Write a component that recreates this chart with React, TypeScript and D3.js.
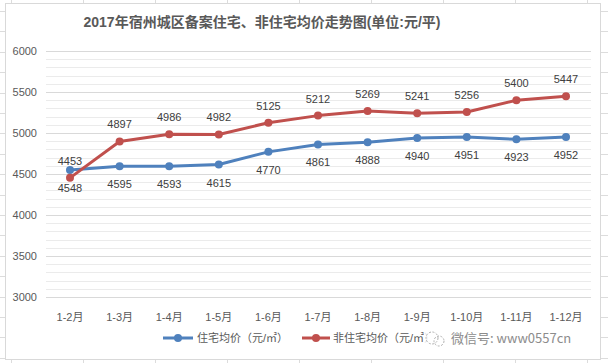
import * as d3 from "d3";

const months = ["1-2月", "1-3月", "1-4月", "1-5月", "1-6月", "1-7月", "1-8月", "1-9月", "1-10月", "1-11月", "1-12月"];
const residential = [4548, 4595, 4593, 4615, 4770, 4861, 4888, 4940, 4951, 4923, 4952];
const nonResidential = [4453, 4897, 4986, 4982, 5125, 5212, 5269, 5241, 5256, 5400, 5447];
const yTicks = [3000, 3500, 4000, 4500, 5000, 5500, 6000];
const seriesNames = ["住宅均价（元/㎡）", "非住宅均价（元/㎡）"];

const W = 608;
const H = 363;
const FONT = "'Liberation Sans', 'Noto Sans CJK SC', sans-serif";
const TEXT = "#595959";
const BLUE = "#4f81bd";
const RED = "#c0504d";

export default function App() {
  const x = d3.scalePoint<string>().domain(months).range([70, 566]);
  const y = d3.scaleLinear().domain([3000, 6000]).range([297, 51]);
  const minor = d3.range(3000, 6001, 100).filter((v) => v % 500 !== 0);
  const line = d3
    .line<number>()
    .x((_, i) => x(months[i]) as number)
    .y((d) => y(d));

  // spreadsheet cells behind the chart
  const cols = d3.range(11, W, 72);
  const rows = d3.range(11, H, 20.4);

  const series = [
    { data: residential, color: BLUE, dy: 22 },
    { data: nonResidential, color: RED, dy: -13 },
  ];

  return (
    <svg width={W} height={H} style={{ position: "absolute", left: 0, top: 0, background: "#fff" }} fontFamily={FONT}>
      <g stroke="#dcdcdc" strokeWidth={1}>
        {cols.map((c) => (
          <line key={"c" + c} x1={c + 0.5} x2={c + 0.5} y1={0} y2={H} />
        ))}
        {rows.map((r) => (
          <line key={"r" + r} x1={0} x2={W} y1={Math.round(r) + 0.5} y2={Math.round(r) + 0.5} />
        ))}
      </g>
      <rect x={5.5} y={3.5} width={595} height={356} fill="#fff" stroke="#d9d9d9" />

      <text x={262} y={27} textAnchor="middle" fontSize={14} fontWeight="bold" fill={TEXT}>
        2017年宿州城区备案住宅、非住宅均价走势图(单位:元/平)
      </text>

      <g>
        {minor.map((v) => (
          <line key={v} x1={46} x2={591} y1={Math.round(y(v)) + 0.5} y2={Math.round(y(v)) + 0.5} stroke="#ebebeb" />
        ))}
        {yTicks.map((v) => (
          <line key={v} x1={46} x2={591} y1={Math.round(y(v)) + 0.5} y2={Math.round(y(v)) + 0.5} stroke="#d9d9d9" />
        ))}
      </g>

      <g fontSize={11} fill={TEXT} textAnchor="end">
        {yTicks.map((v) => (
          <text key={v} x={37} y={y(v) + 4}>
            {v}
          </text>
        ))}
      </g>
      <g fontSize={11} fill={TEXT} textAnchor="middle">
        {months.map((m) => (
          <text key={m} x={x(m)} y={321}>
            {m}
          </text>
        ))}
      </g>

      {series.map((s, si) => (
        <g key={si}>
          <path d={line(s.data) || undefined} fill="none" stroke={s.color} strokeWidth={3} strokeLinejoin="round" />
          {s.data.map((d, i) => (
            <circle key={i} cx={x(months[i])} cy={y(d)} r={4} fill={s.color} />
          ))}
          <g fontSize={11} fill="#404040" textAnchor="middle">
            {s.data.map((d, i) => (
              <text key={i} x={x(months[i])} y={y(d) + s.dy}>
                {d}
              </text>
            ))}
          </g>
        </g>
      ))}

      <g fontSize={11} fill={TEXT}>
        <line x1={163} x2={193} y1={338} y2={338} stroke={BLUE} strokeWidth={3} />
        <circle cx={178} cy={338} r={4} fill={BLUE} />
        <text x={197} y={342}>{seriesNames[0]}</text>
        <line x1={302} x2={330} y1={338} y2={338} stroke={RED} strokeWidth={3} />
        <circle cx={316} cy={338} r={4} fill={RED} />
        <text x={333} y={342}>{seriesNames[1]}</text>
      </g>

      {/* watermark */}
      <g>
        <rect x={424} y={326} width={170} height={24} fill="#fff" opacity={0.85} />
        <circle cx={432} cy={338} r={6} fill="none" stroke="#b0b0b0" strokeDasharray="2 1.5" />
        <circle cx={439} cy={341} r={5} fill="none" stroke="#b0b0b0" strokeDasharray="2 1.5" />
        <text x={451} y={343} fontSize={13} fill="#8c8c8c" fontFamily="'Noto Sans CJK SC', sans-serif">
          微信号: www0557cn
        </text>
      </g>
    </svg>
  );
}
